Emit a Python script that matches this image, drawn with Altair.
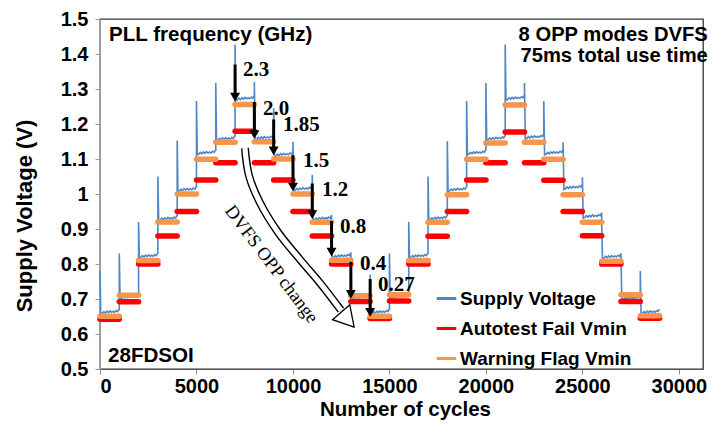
import altair as alt
import pandas as pd

# ---------------- data ----------------
step_start = [0, 1000, 2000, 3000, 4000, 5000, 6000, 7000, 8000, 9000,
              10000, 11000, 12000, 13000, 14000, 15000, 16000, 17000, 18000,
              19000, 20000, 21000, 22000, 23000, 24000, 25000, 26000, 27000, 28000]
step_len = 1000

blue_level = [0.660, 0.703, 0.820, 0.927, 1.010, 1.115, 1.155, 1.270, 1.158, 1.110,
              1.012, 0.927, 0.820, 0.702, 0.660, 0.704, 0.820, 0.928, 1.010, 1.115,
              1.156, 1.271, 1.160, 1.115, 1.016, 0.934, 0.818, 0.700, 0.660]
spike_top = [0.78, 0.83, 0.92, 1.05, 1.153, 1.266, 1.317, 1.427, 1.32, 1.245,
             1.149, 1.055, 0.92, 0.83, 0.77, 0.83, 0.92, 1.05, 1.151, 1.266,
             1.317, 1.427, 1.317, 1.266, 1.148, 1.048, 0.92, 0.83, 0.78]
orange_level = [0.651, 0.711, 0.810, 0.920, 1.000, 1.099, 1.148, 1.256, 1.149, 1.100,
                1.000, 0.919, 0.811, 0.709, 0.651, 0.712, 0.810, 0.919, 0.998, 1.099,
                1.146, 1.254, 1.148, 1.099, 0.998, 0.919, 0.808, 0.712, 0.652]
red_level = [0.642, 0.692, 0.800, 0.880, 0.950, 1.040, 1.089, 1.179, 1.089, 1.040,
             0.950, 0.880, 0.800, 0.693, 0.644, 0.694, 0.800, 0.879, 0.950, 1.040,
             1.089, 1.177, 1.089, 1.039, 0.950, 0.881, 0.800, 0.693, 0.645]
# small noise shape seen on every plateau (fraction of step, offset in V)
ripple_pos = [0.04, 0.12, 0.20, 0.28, 0.36, 0.44, 0.52, 0.60, 0.68, 0.76, 0.84, 0.92, 0.99]
ripple_val = [-0.003, -0.001, 0.004, 0.000, 0.005, 0.001, 0.006, 0.002, 0.005, 0.002, 0.007, 0.004, 0.011]

series_names = ["Supply Voltage", "Autotest Fail Vmin", "Warning Flag Vmin"]
series_colors = ["#4f86c6", "#ff0000", "#f7964a"]

x_ticks = [0, 5000, 10000, 15000, 20000, 25000, 30000]
y_ticks = [0.5, 0.6, 0.7, 0.8, 0.9, 1.0, 1.1, 1.2, 1.3, 1.4, 1.5]

# PLL frequency arrows
arrow_x = [7000, 8000, 9000, 10000, 11000, 12000, 13000, 14000]
arrow_top = [1.370, 1.263, 1.213, 1.111, 1.030, 0.923, 0.806, 0.757]
arrow_bottom = [1.263, 1.156, 1.109, 1.006, 0.927, 0.820, 0.699, 0.648]
freq_label = ["2.3", "2.0", "1.85", "1.5", "1.2", "0.8", "0.4", "0.27"]
freq_label_x = [7409, 8445, 9481, 10518, 11502, 12435, 13471, 14404]
freq_label_v = [1.355, 1.243, 1.198, 1.095, 1.011, 0.905, 0.799, 0.740]

# curved "DVFS OPP change" arrow
curve_x = [7512, 7720, 8290, 9222, 10362, 11399, 12487]
curve_v = [1.131, 1.053, 0.975, 0.891, 0.813, 0.746, 0.668]
head_x = [12833]
head_v = [0.641]

# ---------------- tables ----------------
rows = []
prev = None
k = 0
for i, x0 in enumerate(step_start):
    if prev is not None:
        rows.append({"x": x0, "v": prev, "o": k, "series": series_names[0]}); k += 1
    rows.append({"x": x0, "v": spike_top[i], "o": k, "series": series_names[0]}); k += 1
    for p, r in zip(ripple_pos, ripple_val):
        rows.append({"x": x0 + p * step_len, "v": blue_level[i] + r, "o": k,
                     "series": series_names[0]}); k += 1
    prev = blue_level[i] + ripple_val[-1]
blue_df = pd.DataFrame(rows)

red_df = pd.DataFrame({"x": step_start, "x2": [s + step_len for s in step_start],
                       "v": red_level, "series": series_names[1]})
orange_df = pd.DataFrame({"x": step_start, "x2": [s + step_len for s in step_start],
                          "v": orange_level, "series": series_names[2]})

arrow_df = pd.DataFrame({"x": arrow_x, "v": arrow_top,
                         "shaft_end": [b + 0.012 for b in arrow_bottom]})
head_arrow_df = pd.DataFrame({"x": arrow_x, "v": [b + 0.014 for b in arrow_bottom]})
flabel_df = pd.DataFrame({"x": freq_label_x, "v": freq_label_v, "t": freq_label})
curve_df = pd.DataFrame({"x": curve_x, "v": curve_v, "o": list(range(len(curve_x)))})
head_df = pd.DataFrame({"x": head_x, "v": head_v})

color_scale = alt.Scale(domain=series_names, range=series_colors)
xs = alt.Scale(domain=[0, 31250], nice=False, zero=False)
ys = alt.Scale(domain=[0.5, 1.5], nice=False, zero=False)

legend = alt.Legend(title=None, orient="none", legendX=335, legendY=268,
                    symbolType="stroke", symbolSize=380, symbolStrokeWidth=3,
                    labelFont="Liberation Sans", labelFontSize=19, labelFontWeight="bold",
                    labelColor="black", rowPadding=8, labelOffset=2, labelLimit=0)

x_axis = alt.Axis(values=x_ticks, format="d", tickCount=7,
                  title="Number of cycles", titleX=305, titleY=46, titleFontSize=20.5,
                  titleBaseline="alphabetic", titleAlign="center",
                  domainColor="#555", tickColor="#888", tickSize=5,
                  labelBaseline="alphabetic", labelPadding=18, labelOverlap=False)
y_axis = alt.Axis(values=y_ticks, format=".1~f", tickCount=11,
                  title="Supply Voltage (V)", titleX=-76, titleY=196.5, titleAngle=270,
                  titleAlign="center", titleBaseline="middle",
                  domainColor="#999", tickColor="#999", tickSize=5, labelPadding=7,
                  labelOverlap=False, labelSeparation=0)

X = alt.X("x:Q", scale=xs, axis=x_axis)
Y = alt.Y("v:Q", scale=ys, axis=y_axis)

blue = alt.Chart(blue_df).mark_line(strokeWidth=1.6).encode(
    x=X, y=Y, order="o:Q",
    color=alt.Color("series:N", scale=color_scale, legend=legend),
)
red = alt.Chart(red_df).mark_rule(strokeWidth=5.5, strokeCap="round").encode(
    x=X, x2="x2:Q", y=Y,
    color=alt.Color("series:N", scale=color_scale, legend=legend),
)
orange = alt.Chart(orange_df).mark_rule(strokeWidth=5.5, strokeCap="round").encode(
    x=X, x2="x2:Q", y=Y,
    color=alt.Color("series:N", scale=color_scale, legend=legend),
)

shaft = alt.Chart(arrow_df).mark_rule(strokeWidth=3, color="black").encode(
    x=X, y=Y, y2="shaft_end:Q")
heads = alt.Chart(head_arrow_df).mark_point(shape="triangle-down", filled=True, color="black",
                                            size=100, opacity=1).encode(x=X, y=Y)
flabels = alt.Chart(flabel_df).mark_text(align="left", baseline="middle", font="Liberation Serif",
                                         fontSize=21, fontWeight="bold", color="black").encode(
    x=X, y=Y, text="t:N")

curve_outer = alt.Chart(curve_df).mark_line(strokeWidth=8, color="black",
                                            interpolate="catmull-rom").encode(
    x=X, y=Y, order="o:Q")
curve_inner = alt.Chart(curve_df).mark_line(strokeWidth=5.2, color="white",
                                            interpolate="catmull-rom").encode(
    x=X, y=Y, order="o:Q")
curve_head = alt.Chart(head_df).mark_point(shape="triangle-down", filled=True, fill="white",
                                           stroke="black", strokeWidth=1.3, size=520,
                                           angle=319, opacity=1).encode(x=X, y=Y)

curve_text = alt.Chart(pd.DataFrame({"x": [8900], "v": [0.800], "t": ["DVFS OPP change"]})).mark_text(
    angle=53, align="center", baseline="middle", font="Liberation Serif", fontSize=18.5,
    color="black").encode(x=X, y=Y, text="t:N")

notes_left = alt.Chart(pd.DataFrame({"x": [466, 415], "v": [1.4385, 0.52],
                                     "t": ["PLL frequency (GHz)", "28FDSOI"]})).mark_text(
    align="left", baseline="alphabetic", font="Liberation Sans", fontSize=20.6,
    fontWeight="bold", color="black").encode(x=X, y=Y, text="t:N")
notes_right = alt.Chart(pd.DataFrame({"x": [31500, 31500], "v": [1.4358, 1.377],
                                      "t": ["8 OPP modes DVFS", "75ms total use time"]})).mark_text(
    align="right", baseline="alphabetic", font="Liberation Sans", fontSize=20.2,
    fontWeight="bold", color="black").encode(x=X, y=Y, text="t:N")

chart = alt.layer(
    blue, red, orange, shaft, heads, flabels,
    curve_outer, curve_inner, curve_head, curve_text, notes_left, notes_right
).properties(
    width=603, height=350,
    autosize=alt.AutoSizeParams(type="none"),
    padding={"left": 92, "top": 11, "right": 5, "bottom": 51},
    background="white",
).configure_view(
    stroke="#333", strokeWidth=1.3
).configure_axis(
    grid=False, labelFont="Liberation Sans", labelFontSize=20, labelFontWeight="bold",
    labelColor="black", titleFont="Liberation Sans", titleFontSize=22, titleFontWeight="bold",
    titleColor="black", labelOverlap=False
)

chart.save("out.html", embed_options={"renderer": "svg", "actions": False})
